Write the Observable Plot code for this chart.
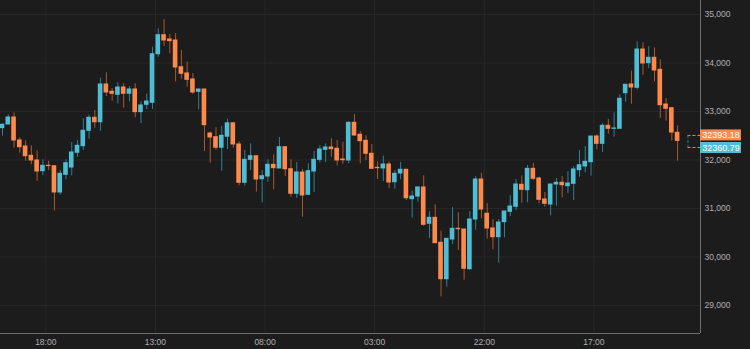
<!DOCTYPE html>
<html><head><meta charset="utf-8">
<script src="https://cdn.jsdelivr.net/npm/d3@7"></script>
<script src="https://cdn.jsdelivr.net/npm/@observablehq/plot@0.6"></script>
<style>html,body{margin:0;padding:0;background:#1c1c1c;overflow:hidden;}</style>
</head><body><div id="chart"></div>
<script>
// hourly candles, first one starts at this time
const startTime = "2018-01-08T10:00:00Z";
const open = [
32656,32732,32876,32402,32278,32087,31990,31769,31880,31872,
31330,31695,31845,32148,32285,32602,32870,32779,33557,33406,
33344,33495,33365,33454,32986,33138,33179,34181,34573,34485,
34464,33913,33784,33660,33406,33454,32546,32470,32252,32480,
32757,32320,31530,32004,32078,31604,31660,31901,31825,32264,
31810,31303,31742,31282,31763,32004,32210,32258,32231,32010,
31990,32767,32520,32396,32128,31839,31825,31907,31542,31722,
31798,31192,31247,31433,30685,30808,30293,29542,30361,30581,
30567,29748,30773,31598,30891,30588,30408,30718,30932,31035,
31489,31377,31818,31619,31186,31082,31495,31530,31460,31509,
31790,31866,31955,32484,32334,32705,32643,32643,33377,33557,
33489,34278,33996,34107,33860,33144,33068,32561];
const high = [
32746,32932,32973,32458,32396,32293,32190,32004,31975,31872,
31783,32004,32361,32402,32850,32924,33021,33687,33798,33474,
33592,33571,33515,33571,33200,33357,34326,34705,34897,34588,
34608,34258,34017,33784,33454,33454,32573,32664,32691,32841,
32757,32375,32196,32334,32078,31783,32004,32107,32464,32264,
32004,31948,31804,31922,32175,32293,32334,32437,32402,32367,
32784,32938,32588,32499,32320,31963,32078,31963,31777,31948,
31798,31357,31447,31674,30932,31076,30532,30375,31021,30911,
30567,30938,31654,31728,31103,30773,30773,30938,31262,31598,
31674,31887,31934,31645,31330,31495,31619,31660,31757,31860,
32196,32278,32484,32520,32746,32835,32973,33344,33551,33831,
34437,34417,34334,34313,34066,33268,33083,32705];
const low = [
32491,32732,32243,32140,31975,31901,31557,31674,31783,30944,
31274,31592,31674,32058,32202,32429,32656,32594,33309,33212,
33159,33068,33200,32870,32753,33035,33041,34120,34340,34190,
33612,33666,33501,33351,33035,32175,31934,32202,31769,32217,
32243,31468,31460,31783,31336,31118,31542,31386,31825,31660,
31233,31212,30821,31282,31330,31942,31948,32058,31880,31913,
31922,32491,31922,31990,31810,31598,31557,31412,31398,31592,
31165,30800,31130,30635,30381,30284,29179,29377,30258,30134,
29522,29728,30552,30788,30367,30148,29872,30396,30835,30959,
31109,31118,31577,31097,31027,30849,31047,31221,31303,31165,
31645,31736,31666,32210,32155,32532,32470,32643,33192,33150,
33447,33749,33887,33612,32856,32800,32388,31975];
const close = [
32726,32876,32402,32264,32078,31990,31763,31880,31874,31330,
31715,31934,32155,32293,32602,32870,32779,33557,33392,33365,
33495,33365,33454,32986,33124,33206,34181,34573,34464,34450,
33907,33777,33654,33392,33454,32718,32464,32252,32499,32757,
32320,31530,32004,32078,31598,31666,31901,31831,32264,31810,
31303,31742,31268,31769,32004,32217,32258,32223,31990,31996,
32767,32505,32388,32128,31818,31831,31907,31536,31715,31798,
31212,31247,31433,30664,30808,30284,29542,30375,30581,30573,
29757,30773,31598,30979,30588,30408,30711,30938,31041,31495,
31386,31818,31612,31179,31097,31495,31530,31480,31515,31804,
31893,31963,32484,32334,32705,32643,32650,33262,33551,33495,
34278,33990,34107,33845,33130,33056,32567,32393.18];
const yTicks = [29000,30000,31000,32000,33000,34000,35000];
const xTickTimes = ["2018-01-08T18:00:00Z","2018-01-09T13:00:00Z","2018-01-10T08:00:00Z","2018-01-11T03:00:00Z","2018-01-11T22:00:00Z","2018-01-12T17:00:00Z"];
const xTickLabels = ["18:00","13:00","08:00","03:00","22:00","17:00"];
const lastPrice = 32393.18;
const bidPrice = 32360.79;

const BLUE = "#4fbdd6", BLUE_WICK = "#2f8197";
const ORANGE = "#fd8a4b", ORANGE_WICK = "#a85a2f";
const BG = "#1c1c1c", GRID = "#282828", FRAME = "#6e6e6e", TEXT = "#b0b0b0";

const HOUR = 3600e3;
const t0 = Date.parse(startTime);
const at = h => new Date(t0 + h * HOUR);
const candles = open.map((o, i) => ({
  mid: at(i + 0.5), x1: at(i + 0.1), x2: at(i + 0.9),
  open: o, high: high[i], low: low[i], close: close[i], up: close[i] >= o
}));
const xStart = at(0.153), xEnd = at(121.47);
const yDomain = [28422.5, 35288.7];
const tickDates = xTickTimes.map(s => new Date(s));
const labelOf = new Map(tickDates.map((d, i) => [+d, xTickLabels[i]]));
const tagX1 = xEnd, tagX2 = at(121.47 + 7.1), tagMid = at(121.47 + 3.55);
const bracketX = at(119.3);
const fmt = d3.format(",");

const chart = Plot.plot({
  width: 750, height: 349,
  marginLeft: 0, marginRight: 50, marginTop: 0, marginBottom: 16,
  style: {background: BG, color: TEXT, fontFamily: "'Liberation Sans', Arial, sans-serif", fontSize: "8.5px"},
  x: {type: "utc", domain: [xStart, xEnd], ticks: tickDates, tickFormat: d => labelOf.get(+d) ?? "", tickSize: 0, tickPadding: 5, label: null},
  y: {domain: yDomain, ticks: yTicks, tickFormat: d => fmt(d), tickSize: 0, tickPadding: 4, axis: "right", label: null},
  marks: [
    Plot.ruleY(yTicks, {stroke: GRID, x1: xStart, x2: xEnd}),
    Plot.ruleX(tickDates, {stroke: GRID}),
    Plot.ruleX(candles, {x: "mid", y1: "low", y2: "high", stroke: d => d.up ? BLUE_WICK : ORANGE_WICK, strokeWidth: 1}),
    Plot.rect(candles, {x1: "x1", x2: "x2", y1: "open", y2: "close", fill: d => d.up ? BLUE : ORANGE, insetTop: -0.5, insetBottom: -0.5}),
    Plot.ruleY([lastPrice], {x1: bracketX, x2: xEnd, stroke: ORANGE, strokeDasharray: "3,2", dy: -5.5}),
    Plot.ruleY([bidPrice], {x1: bracketX, x2: xEnd, stroke: BLUE, strokeDasharray: "3,2", dy: 5}),
    Plot.ruleX([bracketX], {y1: lastPrice, y2: bidPrice, insetTop: -5.5, insetBottom: -5, stroke: BLUE_WICK, strokeDasharray: "3,2"}),
    Plot.ruleY([yDomain[0]], {x1: xStart, x2: xEnd, stroke: FRAME}),
    Plot.ruleX([xEnd], {y1: yDomain[0], y2: yDomain[1], stroke: FRAME}),
    Plot.rect([lastPrice], {x1: tagX1, x2: tagX2, y1: d => d, y2: d => d, insetTop: -5.5, insetBottom: -5.5, dy: -5.5, fill: ORANGE}),
    Plot.rect([bidPrice], {x1: tagX1, x2: tagX2, y1: d => d, y2: d => d, insetTop: -5.5, insetBottom: -5.5, dy: 5.5, fill: BLUE}),
    Plot.text([lastPrice], {x: tagMid, y: d => d, text: d => d.toFixed(2), dy: -5.5, fill: "#ffffff", fontSize: 9}),
    Plot.text([bidPrice], {x: tagMid, y: d => d, text: d => d.toFixed(2), dy: 5.5, fill: "#ffffff", fontSize: 9})
  ]
});
document.getElementById("chart").appendChild(chart);
</script>
</body></html>
